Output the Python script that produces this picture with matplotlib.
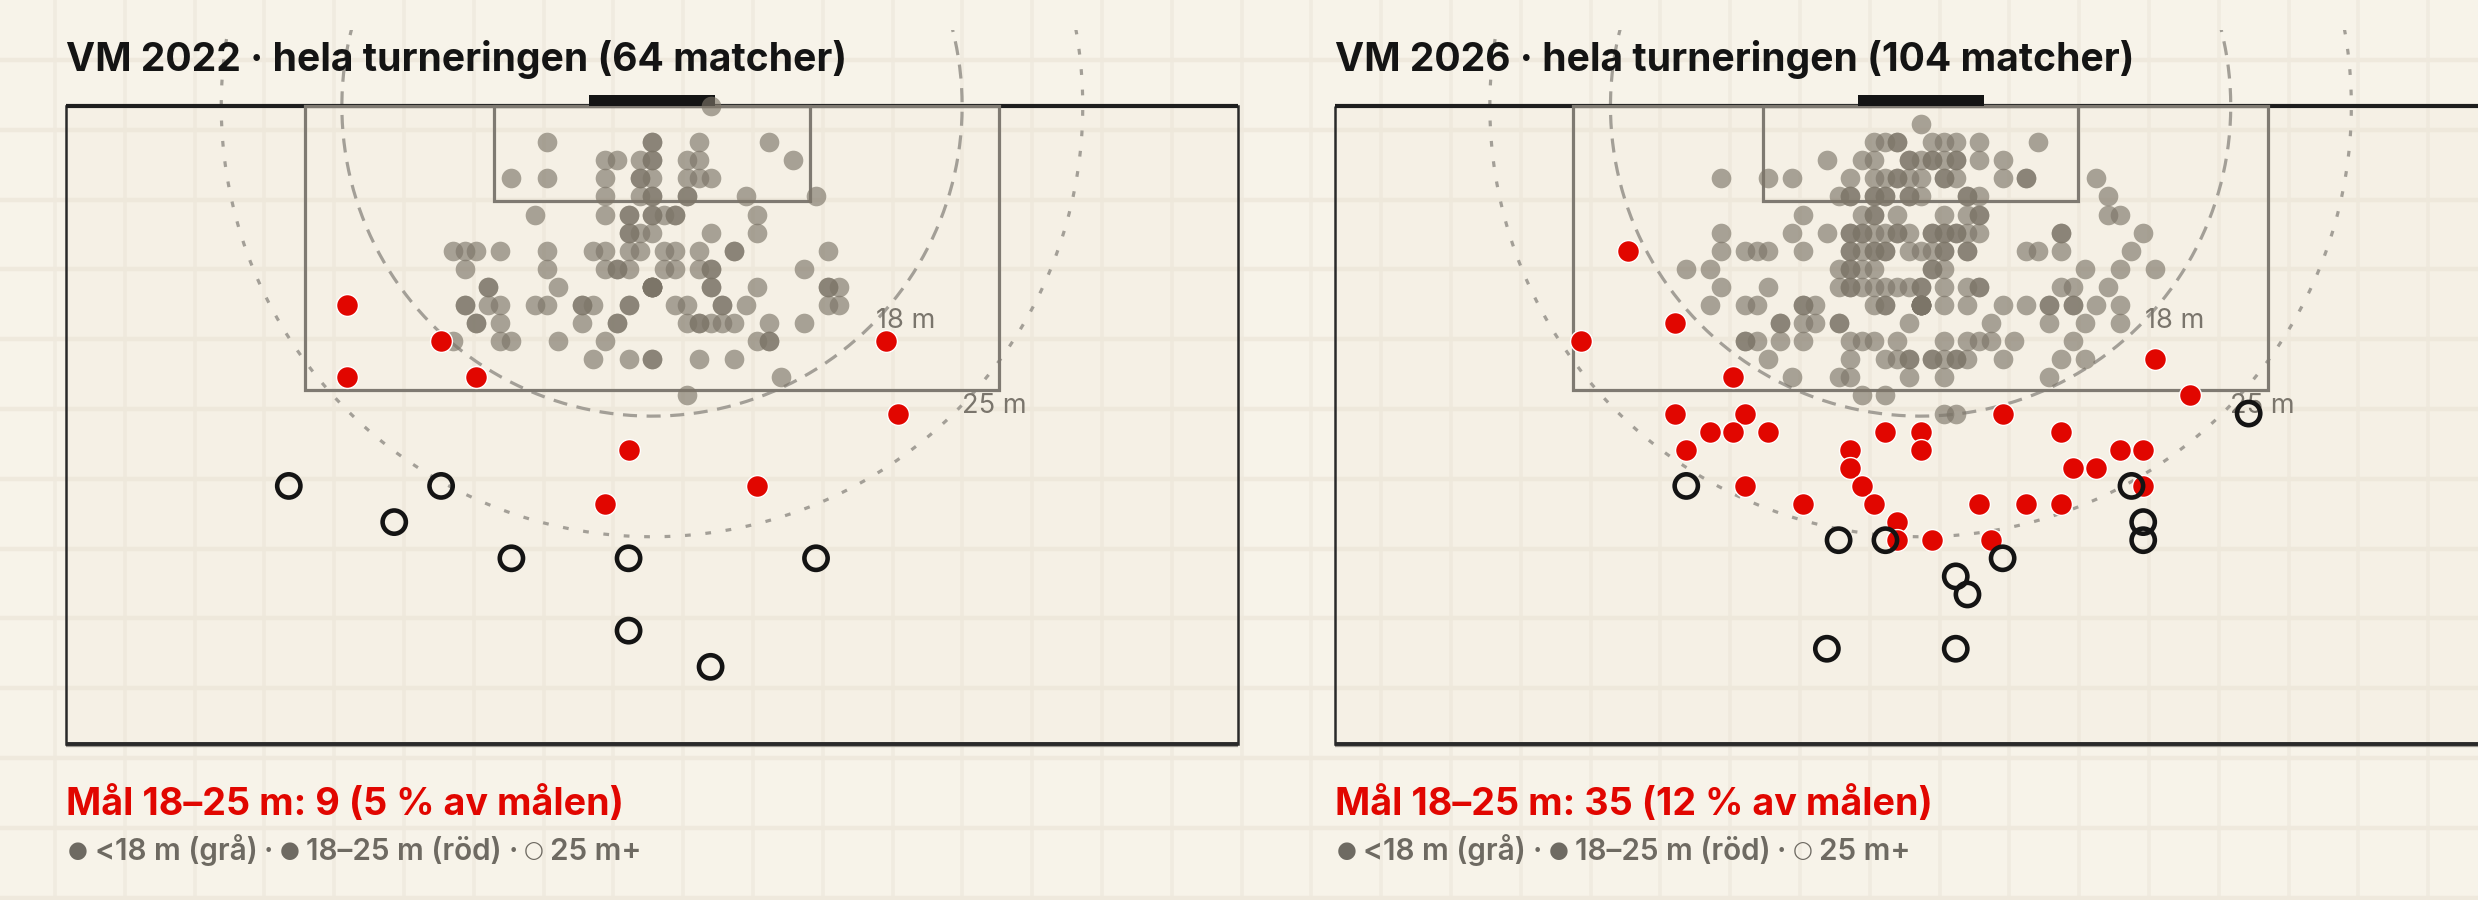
import numpy as np
import matplotlib.pyplot as plt
from matplotlib.patches import Rectangle
from matplotlib.lines import Line2D

# Goal positions in Opta-style units, measured from the goal centre:
# x = units across the pitch (1 unit = 0.68 m), y = units out from the goal line (1 unit = 1.05 m)
gray_2022 = [
    (5, 0),
    (-9, 2), (0, 2), (0, 2), (4, 2), (10, 2),
    (-4, 3), (-3, 3), (-1, 3), (0, 3), (0, 3), (3, 3), (4, 3), (12, 3),
    (-12, 4), (-9, 4), (-4, 4), (-1, 4), (-1, 4), (0, 4), (3, 4), (4, 4), (5, 4),
    (-4, 5), (-1, 5), (0, 5), (0, 5), (3, 5), (3, 5), (8, 5), (14, 5),
    (-10, 6), (-4, 6), (-2, 6), (-2, 6), (0, 6), (0, 6), (1, 6), (2, 6), (2, 6), (9, 6),
    (-2, 7), (-2, 7), (-1, 7), (0, 7), (5, 7), (9, 7),
    (-17, 8), (-16, 8), (-15, 8), (-13, 8), (-9, 8), (-5, 8), (-4, 8), (-2, 8), (-1, 8),
    (1, 8), (2, 8), (4, 8), (7, 8), (7, 8), (15, 8),
    (-16, 9), (-9, 9), (-4, 9), (-3, 9), (-3, 9), (-2, 9), (1, 9), (2, 9), (4, 9), (5, 9), (5, 9), (13, 9),
    (-14, 10), (-14, 10), (-8, 10), (0, 10), (0, 10), (0, 10), (0, 10), (0, 10), (0, 10),
    (5, 10), (5, 10), (9, 10), (15, 10), (15, 10), (16, 10),
    (-16, 11), (-16, 11), (-14, 11), (-13, 11), (-10, 11), (-9, 11), (-6, 11), (-6, 11), (-5, 11),
    (-2, 11), (-2, 11), (2, 11), (3, 11), (6, 11), (6, 11), (8, 11), (15, 11), (16, 11),
    (-15, 12), (-15, 12), (-13, 12), (-6, 12), (-3, 12), (-3, 12), (3, 12), (4, 12), (4, 12),
    (5, 12), (6, 12), (7, 12), (10, 12), (13, 12),
    (-17, 13), (-13, 13), (-12, 13), (-8, 13), (-4, 13), (9, 13), (10, 13), (10, 13),
    (-5, 14), (-2, 14), (0, 14), (0, 14), (4, 14), (7, 14),
    (11, 15),
    (3, 16),
]
red_2022 = [(-26, 11), (-18, 13), (-26, 15), (-15, 15), (20, 13), (21, 17), (-2, 19), (9, 21), (-4, 22)]
long_2022 = [(-31, 21), (-18, 21), (-22, 23), (-12, 25), (-2, 25), (14, 25), (-2, 29), (5, 31)]

gray_2026 = [
    (0, 1),
    (-4, 2), (-3, 2), (-2, 2), (-2, 2), (1, 2), (2, 2), (3, 2), (5, 2), (10, 2),
    (-8, 3), (-5, 3), (-4, 3), (-1, 3), (-1, 3), (0, 3), (1, 3), (1, 3), (2, 3), (3, 3), (3, 3), (5, 3), (7, 3),
    (-17, 4), (-13, 4), (-11, 4), (-6, 4), (-4, 4), (-3, 4), (-2, 4), (-2, 4), (-1, 4), (0, 4),
    (2, 4), (2, 4), (3, 4), (7, 4), (9, 4), (9, 4), (15, 4),
    (-7, 5), (-6, 5), (-6, 5), (-4, 5), (-4, 5), (-3, 5), (-3, 5), (-1, 5), (-1, 5), (0, 5),
    (4, 5), (4, 5), (5, 5), (16, 5),
    (-10, 6), (-5, 6), (-4, 6), (-4, 6), (-2, 6), (2, 6), (4, 6), (5, 6), (5, 6), (16, 6), (17, 6),
    (-17, 7), (-11, 7), (-8, 7), (-6, 7), (-6, 7), (-5, 7), (-5, 7), (-4, 7), (-3, 7), (-2, 7), (-2, 7),
    (-1, 7), (1, 7), (1, 7), (2, 7), (2, 7), (3, 7), (3, 7), (4, 7), (5, 7), (12, 7), (12, 7), (19, 7),
    (-17, 8), (-15, 8), (-14, 8), (-13, 8), (-10, 8), (-6, 8), (-6, 8), (-5, 8), (-4, 8), (-4, 8),
    (-3, 8), (-3, 8), (-1, 8), (0, 8), (1, 8), (2, 8), (2, 8), (4, 8), (4, 8), (9, 8), (10, 8), (12, 8), (18, 8),
    (-20, 9), (-18, 9), (-7, 9), (-6, 9), (-6, 9), (-5, 9), (-4, 9), (1, 9), (1, 9), (2, 9), (14, 9), (17, 9), (20, 9),
    (-17, 10), (-13, 10), (-7, 10), (-6, 10), (-6, 10), (-5, 10), (-4, 10), (-3, 10), (-2, 10), (-1, 10),
    (0, 10), (0, 10), (2, 10), (4, 10), (5, 10), (5, 10), (12, 10), (13, 10), (16, 10),
    (-18, 11), (-15, 11), (-14, 11), (-10, 11), (-10, 11), (-9, 11), (-4, 11), (-3, 11), (-3, 11),
    (0, 11), (0, 11), (0, 11), (0, 11), (0, 11), (0, 11), (0, 11), (0, 11),
    (2, 11), (4, 11), (7, 11), (9, 11), (11, 11), (11, 11), (13, 11), (13, 11), (15, 11), (17, 11),
    (-12, 12), (-12, 12), (-10, 12), (-9, 12), (-7, 12), (-7, 12), (-1, 12), (6, 12), (11, 12), (14, 12), (17, 12),
    (-15, 13), (-15, 13), (-14, 13), (-12, 13), (-10, 13), (-6, 13), (-5, 13), (-4, 13), (-2, 13),
    (2, 13), (4, 13), (5, 13), (6, 13), (8, 13), (13, 13),
    (-13, 14), (-6, 14), (-3, 14), (-2, 14), (-1, 14), (-1, 14), (1, 14), (1, 14), (2, 14),
    (3, 14), (3, 14), (4, 14), (7, 14), (12, 14), (14, 14),
    (-11, 15), (-7, 15), (-6, 15), (-1, 15), (2, 15), (11, 15),
    (-5, 16), (-3, 16),
    (2, 17), (3, 17),
]
red_2026 = [
    (-25, 8), (-21, 12), (-29, 13), (20, 14), (-16, 15), (23, 16), (7, 17), (-21, 17), (-15, 17),
    (-18, 18), (-16, 18), (-13, 18), (-3, 18), (0, 18), (12, 18), (-20, 19), (-6, 19), (0, 19),
    (17, 19), (19, 19), (-6, 20), (13, 20), (15, 20), (-15, 21), (-5, 21), (19, 21), (-10, 22),
    (-4, 22), (5, 22), (9, 22), (12, 22), (-2, 23), (-2, 24), (1, 24), (6, 24),
]
long_2026 = [(28, 17), (-20, 21), (18, 21), (19, 23), (-7, 24), (-3, 24), (19, 24), (7, 25),
             (3, 26), (4, 27), (-8, 30), (3, 30)]

titles = ["VM 2022 · hela turneringen (64 matcher)", "VM 2026 · hela turneringen (104 matcher)"]
mid_goals = [9, 35]
mid_share = [5, 12]
legend_parts = [("●", True), ("<18 m (grå)", False), ("·", False), ("●", True),
                ("18–25 m (röd)", False), ("·", False), ("○", True), ("25 m+", False)]

UX, UY = 0.68, 1.05          # metres per unit
W, H, DPI = 2478, 900, 200
S = 17.23                    # px per metre
GOAL_Y = 106                 # goal line, px from top
CENTERS = [652, 1920.6]      # goal centre x per panel, px
BG = '#f7f3e9'
RED = '#e10600'
GRAY_DOT = '#7c7568'
LEG_COL = '#6e6a62'

fig = plt.figure(figsize=(W / DPI, H / DPI), dpi=DPI, facecolor=BG)
renderer = fig.canvas.get_renderer()

# faint background grid
for gx in np.arange(55, W, 69.8):
    fig.add_artist(Line2D([gx / W, gx / W], [0, 1], transform=fig.transFigure,
                          color='#f0ebe0', lw=1.3, zorder=-5))
for gy in np.arange(60, H, 69.8):
    fig.add_artist(Line2D([0, 1], [1 - gy / H, 1 - gy / H], transform=fig.transFigure,
                          color='#efe9dd', lw=1.6, zorder=-5))


def legend_line(x_px, y_px):
    # pieces placed one after another with a small gap
    x = x_px
    for s, is_mark in legend_parts:
        if is_mark:
            kw = dict(family='DejaVu Sans', fontsize=8.2)
            y = y_px - 2.5
        else:
            kw = dict(family='Inter', fontsize=10.7, weight='semibold')
            y = y_px
        t = fig.text(x / W, 1 - y / H, s, color=LEG_COL, va='baseline', ha='left', **kw)
        x += t.get_window_extent(renderer).width + 6.5


def draw_panel(cx, gray, red, long_, title, n_mid, share):
    x0, x1, y0, y1 = -35.0, 35.0, -4.4, 38.0
    left = cx + x0 * S
    bottom = GOAL_Y + y1 * S
    ax = fig.add_axes([left / W, 1 - bottom / H, (x1 - x0) * S / W, (y1 - y0) * S / H])
    ax.set_xlim(x0, x1)
    ax.set_ylim(y1, y0)
    ax.axis('off')

    # pitch
    ax.add_patch(Rectangle((-34, 0), 68, 37, facecolor='#ebe3d0', alpha=0.14, edgecolor='none', zorder=0))
    ax.add_patch(Rectangle((-34, 0), 68, 37, facecolor='none', edgecolor='#2a2a2a', lw=0.9, zorder=2))
    ax.plot([-34, 34], [37.12, 37.12], color='#9a968e', lw=0.8, zorder=2, solid_capstyle='butt')
    ax.plot([-34, 34], [37, 37], color='#2a2a2a', lw=1.4, zorder=2, solid_capstyle='butt')
    ax.plot([-34, 34], [0, 0], color='#1e1e1e', lw=1.5, zorder=2, solid_capstyle='butt')
    ax.add_patch(Rectangle((-20.16, 0), 40.32, 16.5, facecolor='none', edgecolor='#7f7a72', lw=1.15, zorder=2))
    ax.add_patch(Rectangle((-9.16, 0), 18.32, 5.5, facecolor='none', edgecolor='#7f7a72', lw=1.15, zorder=2))
    ax.add_patch(Rectangle((-3.66, -0.65), 7.32, 0.65, facecolor='#141414', edgecolor='none', zorder=3))

    # distance arcs
    t = np.radians(np.linspace(-120, 120, 400))
    ax.plot(18 * np.sin(t), 18 * np.cos(t), color='#a39f97', lw=1.15,
            linestyle=(0, (4.4, 3.0)), zorder=1)
    ax.plot(25 * np.sin(t), 25 * np.cos(t), color='#a39f97', lw=1.15,
            linestyle=(0, (1.8, 4.6)), zorder=1)
    c45 = np.cos(np.radians(45))
    for r in (18, 25):
        ax.text(r * c45 + 0.3, r * c45 - 0.25, f"{r} m", fontsize=9.8, color='#7a756c',
                family='Inter', ha='left', va='center', zorder=3)

    g = np.array(gray, dtype=float)
    ax.scatter(g[:, 0] * UX, g[:, 1] * UY, s=50, color=GRAY_DOT, alpha=0.64,
               linewidths=0, zorder=4)
    r_ = np.array(red, dtype=float)
    ax.scatter(r_[:, 0] * UX, r_[:, 1] * UY, s=62, color=RED, edgecolors='white',
               linewidths=0.5, zorder=5)
    l_ = np.array(long_, dtype=float)
    ax.scatter(l_[:, 0] * UX, l_[:, 1] * UY, s=70, facecolors='none', edgecolors='#141414',
               linewidths=1.65, zorder=6)

    tx_px = cx - 34 * S
    fig.text(tx_px / W, 1 - 70.7 / H, title, fontsize=14.05, weight='bold', color='#141414',
             family='Inter', va='baseline', ha='left')
    fig.text(tx_px / W, 1 - 815 / H, f"Mål 18–25 m: {n_mid} ({share} % av målen)", fontsize=13.6,
             weight='bold', color=RED, family='Inter', va='baseline', ha='left')
    legend_line(tx_px + 2, 860)


draw_panel(CENTERS[0], gray_2022, red_2022, long_2022, titles[0], mid_goals[0], mid_share[0])
draw_panel(CENTERS[1], gray_2026, red_2026, long_2026, titles[1], mid_goals[1], mid_share[1])

fig.savefig('out.png', dpi=DPI, facecolor=BG)
